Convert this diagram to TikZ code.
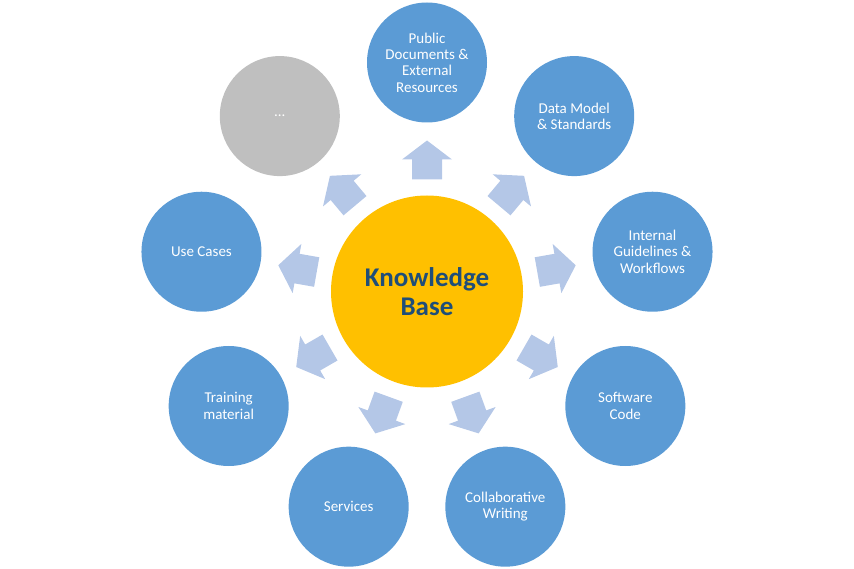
\documentclass[tikz,border=0pt]{standalone}
\usepackage{fontspec}
\setmainfont{Carlito}
\usetikzlibrary{positioning,calc}
\definecolor{kbgold}{HTML}{FFC000}
\definecolor{satblue}{HTML}{5B9BD5}
\definecolor{satgrey}{HTML}{BFBFBF}
\definecolor{arrowblue}{HTML}{B4C7E7}
\definecolor{kbtext}{HTML}{1F4E79}

\begin{document}
\begin{tikzpicture}[x=1pt, y=1pt,
		hub/.style={circle, fill=kbgold, minimum size=192pt, inner sep=0pt, align=center, text=kbtext, font=\fontsize{27}{29}\selectfont\bfseries},
		sat/.style={circle, fill=satblue, minimum size=120pt, inner sep=0pt, align=center, text=white, font=\fontsize{15}{16.3}\selectfont},
		blockarrow/.style={fill=arrowblue}]
				\useasboundingbox (0,0) rectangle (854,568);
				\node[hub] (kb) at (427,276.5) {Knowledge\\Base};
				
				\node[sat] (pub) at ($(kb)+(90:229)$) {Public\\Documents \&\\External\\Resources};
				\node[sat] (model) at ($(kb)+(50:229)$) {Data Model\\\& Standards};
				\node[sat] (guide) at ($(kb)+(10:229)$) {Internal\\Guidelines \&\\Workflows};
				\node[sat] (code) at ($(kb)+(-30:229)$) {Software\\Code};
				\node[sat] (collab) at ($(kb)+(-70:229)$) {Collaborative\\Writing};
				\node[sat] (serv) at ($(kb)+(-110:229)$) {Services};
				\node[sat] (train) at ($(kb)+(-150:229)$) {Training\\material};
				\node[sat] (cases) at ($(kb)+(170:229)$) {Use Cases};
				\node[sat, fill=satgrey] (more) at ($(kb)+(130:229)$) {...};
				
				\foreach \a in {90,50,...,-230}
					\fill[blockarrow, shift={(kb.center)}, rotate=\a] (112,-15) -- (132,-15) -- (132,-25) -- (151,0) -- (132,25) -- (132,15) -- (112,15) -- cycle;
			\end{tikzpicture}
\end{document}
